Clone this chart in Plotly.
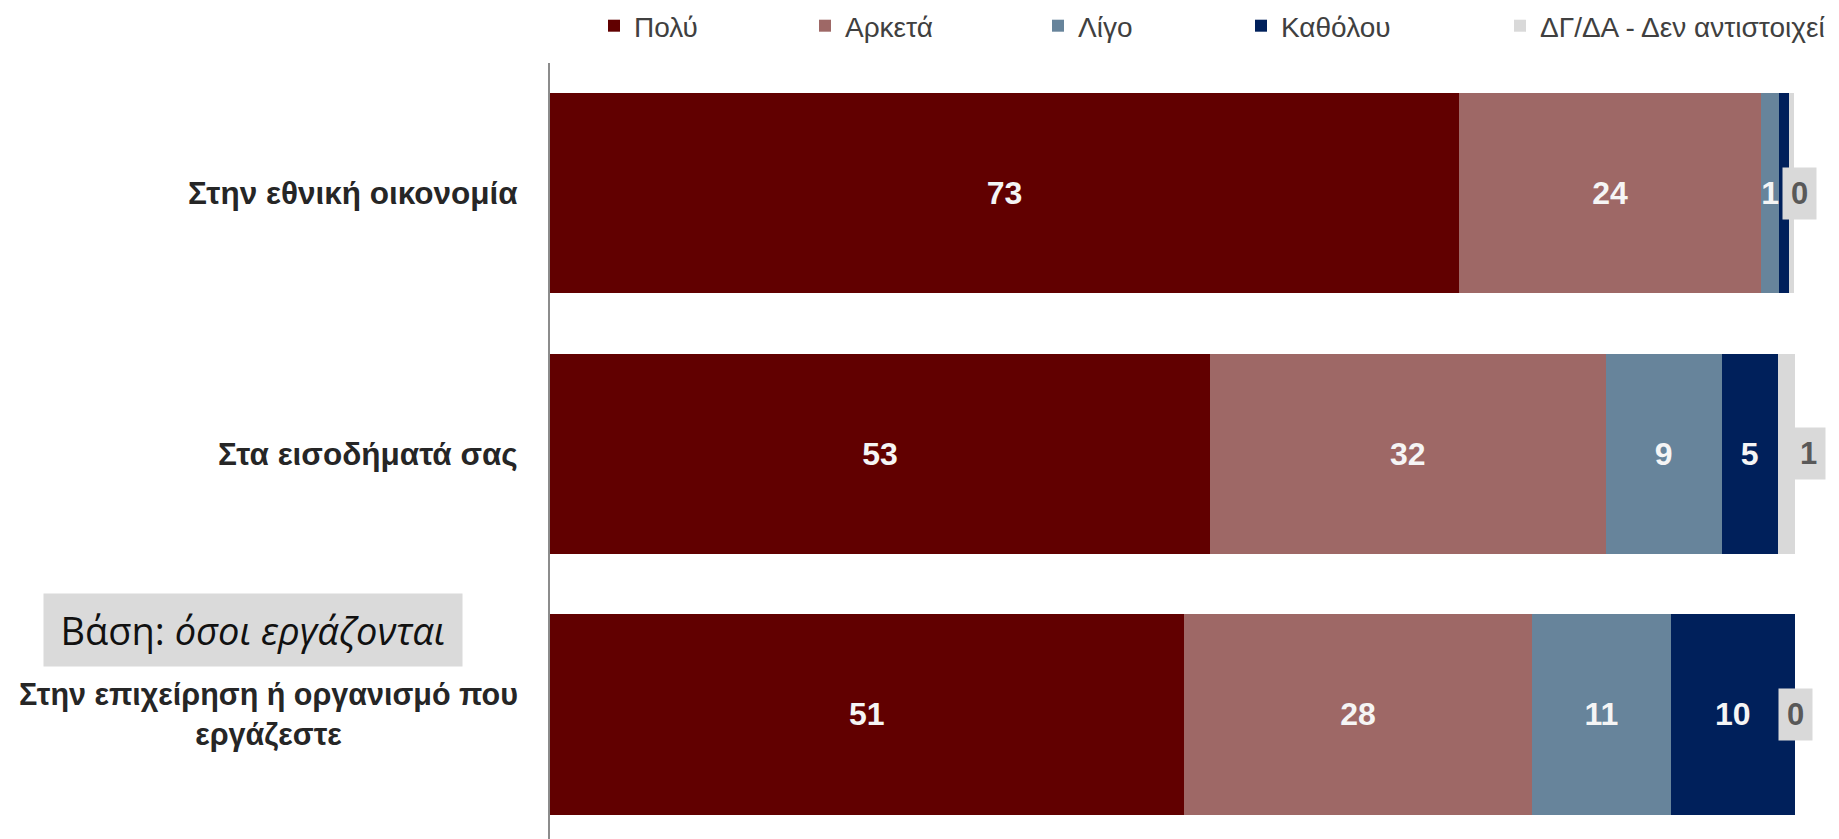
import math
import plotly.graph_objects as go

categories = ["Στην εθνική οικονομία", "Στα εισοδήματά σας",
              "Στην επιχείρηση ή οργανισμό που<br>εργάζεστε"]
series_names = ["Πολύ", "Αρκετά", "Λίγο", "Καθόλου", "ΔΓ/ΔΑ - Δεν αντιστοιχεί"]
polu = [73.0, 53.0, 50.9]
arketa = [24.3, 31.8, 28.0]
ligo = [1.4, 9.3, 11.1]
katholou = [0.8, 4.5, 10.0]
dg_da = [0.45, 1.4, 0.0]
base_note = "Βάση: <i>όσοι εργάζονται</i>"

colors = ["#610000", "#9e6866", "#67849b", "#00205b", "#d9d9d9"]
legend_widths = [166, 188, 158, 214, 295]
SANS = "Liberation Sans, Arial, sans-serif"


def fmt(v):
    return str(int(math.floor(v + 0.5)))


series = [polu, arketa, ligo, katholou, dg_da]

# page body has an 8px margin: figure coordinates = page coordinates - 8
W, H = 1831, 831
ML, MR, MT, MB = 542, 44, 55, 0
pw, ph = W - ML - MR, H - MT - MB

fig = go.Figure()
for i, (name, vals) in enumerate(zip(series_names, series)):
    is_dg = i == len(series) - 1
    labels = ["" if (is_dg or v < 1) else fmt(v) for v in vals]
    fig.add_trace(go.Bar(
        y=categories, x=vals, name=name, orientation="h",
        marker=dict(color=colors[i], line=dict(width=0)),
        text=labels, textposition="none" if is_dg else "inside",
        insidetextanchor="middle", constraintext="none",
        textfont=dict(family=SANS, size=32, color="#f5f5f5", weight="bold"),
        legendwidth=legend_widths[i],
        hoverinfo="skip",
    ))

# DG/DA value boxes just past the end of each bar
totals = [sum(s[k] for s in series) for k in range(len(categories))]
dg_shift = [5, 13, 0]
for k, cat in enumerate(categories):
    fig.add_annotation(
        x=totals[k], y=cat, xref="x", yref="y", text="<b>" + fmt(dg_da[k]) + "</b>",
        showarrow=False, xanchor="center", yanchor="middle", xshift=dg_shift[k],
        font=dict(family=SANS, size=31, color="#595959"),
        bgcolor="#d9d9d9", borderpad=4, width=25, height=43,
    )

# category labels
label_shift = [-30, -30, -30]
label_size = [31.5, 31.5, 30.5]
label_align = ["right", "right", "center"]
for k, cat in enumerate(categories):
    fig.add_annotation(
        x=0, y=cat, xref="paper", yref="y", text="<b>" + cat + "</b>", showarrow=False,
        xanchor="right", yanchor="middle", align=label_align[k], xshift=label_shift[k],
        font=dict(family=SANS, size=label_size[k], color="#262626"),
    )

fig.add_annotation(
    x=(245 - ML) / pw, y=(H - 622) / ph, xref="paper", yref="paper",
    text=base_note, showarrow=False, xanchor="center", yanchor="middle",
    font=dict(family="Open Sans, Noto Sans, sans-serif", size=38, color="#111111"),
    bgcolor="#dadada", borderpad=0, width=418, height=72, align="center",
)

fig.update_layout(
    width=W, height=H,
    margin=dict(l=ML, r=MR, t=MT, b=MB, pad=0),
    barmode="stack", bargap=0.232,
    plot_bgcolor="white", paper_bgcolor="white",
    showlegend=True,
    legend=dict(
        orientation="h", xref="container", yref="container",
        x=586 / W, xanchor="left", y=1 - 18 / H, yanchor="middle",
        font=dict(family=SANS, size=28, color="#404040"),
        traceorder="normal", itemclick=False, itemdoubleclick=False,
        bgcolor="rgba(0,0,0,0)",
    ),
    xaxis=dict(range=[0, 100], visible=False, fixedrange=True),
    yaxis=dict(
        categoryorder="array", categoryarray=categories,
        range=[2.478, -0.5], showticklabels=False, ticks="",
        showgrid=False, zeroline=False,
        showline=True, linecolor="#8c8c8c", linewidth=2, fixedrange=True,
    ),
)

fig.write_html("out.html")
